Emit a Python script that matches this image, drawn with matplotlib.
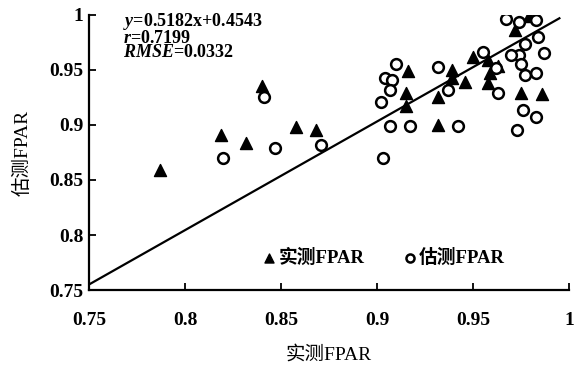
import numpy as np
import matplotlib.pyplot as plt

plt.rcParams['font.family'] = ['Liberation Serif', 'Noto Sans CJK SC']
plt.rcParams['font.weight'] = 'bold'
plt.rcParams['mathtext.fontset'] = 'custom'
plt.rcParams['mathtext.it'] = 'Liberation Serif:italic:bold'
plt.rcParams['mathtext.rm'] = 'Liberation Serif:bold'

# 实测FPAR points (triangles)
tri_x = [0.787, 0.819, 0.832, 0.840, 0.858, 0.868, 0.916, 0.915, 0.915, 0.932,
         0.932, 0.939, 0.939, 0.946, 0.950, 0.958, 0.959, 0.958, 0.963, 0.972,
         0.979, 0.975, 0.986]
tri_y = [0.859, 0.891, 0.884, 0.935, 0.898, 0.895, 0.949, 0.929, 0.917, 0.925,
         0.900, 0.950, 0.943, 0.939, 0.962, 0.938, 0.947, 0.959, 0.954, 0.986,
         0.999, 0.929, 0.928]

# 估测FPAR points (circles)
circ_x = [0.820, 0.841, 0.847, 0.871, 0.910, 0.904, 0.908, 0.907, 0.902, 0.907,
          0.917, 0.942, 0.932, 0.937, 0.903, 0.955, 0.962, 0.963, 0.967, 0.974,
          0.983, 0.984, 0.977, 0.974, 0.970, 0.987, 0.975, 0.977, 0.983, 0.976,
          0.983, 0.973]
circ_y = [0.870, 0.925, 0.879, 0.882, 0.955, 0.943, 0.941, 0.932, 0.921, 0.899,
          0.899, 0.899, 0.953, 0.932, 0.870, 0.966, 0.952, 0.929, 0.996, 0.994,
          0.995, 0.980, 0.974, 0.964, 0.964, 0.965, 0.955, 0.945, 0.947, 0.914,
          0.907, 0.895]

line_x = [0.75, 0.995]
line_y = [0.755, 0.997]

fig = plt.figure(figsize=(5.79, 3.70), dpi=100)
ax = fig.add_axes([0.1537, 0.2162, 0.829, 0.7433])

ax.plot(line_x, line_y, color='black', lw=1.6, zorder=1)
ax.scatter(tri_x, tri_y, marker='^', s=75, color='black', zorder=2, label='实测FPAR')
ax.scatter(circ_x, circ_y, marker='o', s=60, facecolor='white', edgecolor='black',
           linewidths=1.8, zorder=3, label='估测FPAR')

ax.set_xlim(0.75, 1.0)
ax.set_ylim(0.75, 1.0)
ax.set_xticks([0.75, 0.8, 0.85, 0.9, 0.95, 1.0])
ax.set_xticklabels(['0.75', '0.8', '0.85', '0.9', '0.95', '1'])
ax.set_yticks([0.75, 0.8, 0.85, 0.9, 0.95, 1.0])
ax.set_yticklabels(['0.75', '0.8', '0.85', '0.9', '0.95', '1'])
ax.tick_params(direction='in', length=5, width=1.3, labelsize=14)
ax.tick_params(axis='x', pad=16)
ax.tick_params(axis='y', pad=4)
ax.spines['top'].set_visible(False)
ax.spines['right'].set_visible(False)
for s in ['left', 'bottom']:
    ax.spines[s].set_linewidth(1.6)

ax.set_xlabel('实测FPAR', fontsize=14, labelpad=12)
ax.set_ylabel('估测FPAR', fontsize=14, labelpad=13)

ax.text(0.07, 1.015, r'$y$=0.5182x+0.4543' + '\n' + r'$r$=0.7199' + '\n' + r'$RMSE$=0.0332',
        transform=ax.transAxes, fontsize=13, va='top', ha='left', linespacing=0.82)

ax.legend(loc='center left', bbox_to_anchor=(0.36, 0.116), ncol=2, frameon=False,
          fontsize=13.5, markerscale=0.75, handletextpad=0.1, columnspacing=2.0,
          handlelength=0.8, borderaxespad=0, borderpad=0)

plt.savefig('out.png', dpi=100)
